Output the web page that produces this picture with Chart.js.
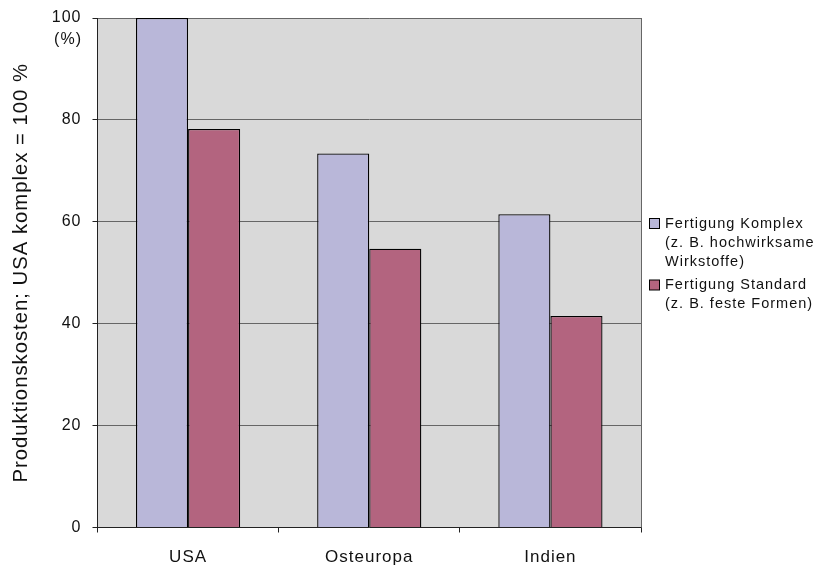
<!DOCTYPE html>
<html>
<head>
<meta charset="utf-8">
<script src="https://cdn.jsdelivr.net/npm/chart.js@4/dist/chart.umd.min.js"></script>
<style>
  html, body { margin: 0; padding: 0; background: #ffffff; }
  #wrap { width: 815px; height: 565px; position: relative; }
</style>
</head>
<body>
<div id="wrap"><canvas id="c" width="815" height="565"></canvas></div>
<script>
// Production cost comparison, indexed to USA complex manufacturing = 100 %
const categories = ['USA', 'Osteuropa', 'Indien'];
const komplexValues = [100, 73.4, 61.5];
const standardValues = [78.2, 54.7, 41.5];
const seriesLabels = [
  ['Fertigung Komplex', '(z. B. hochwirksame', 'Wirkstoffe)'],
  ['Fertigung Standard', '(z. B. feste Formen)']
];
const yTickValues = [0, 20, 40, 60, 80, 100];
const yUnitLabel = '(%)';
const yAxisTitle = 'Produktionskosten; USA komplex = 100 %';

const FONT = '"Liberation Sans", Arial, Helvetica, sans-serif';
const colors = {
  komplex: '#b9b7d9',
  standard: '#b3647f',
  plotBg: '#d9d9d9',
  grid: '#666666',
  axis: '#222222',
  text: '#111111'
};

// Plot background and the thin frame on the right side
const plotFrame = {
  id: 'plotFrame',
  beforeDraw(chart) {
    const { ctx, chartArea: a } = chart;
    ctx.letterSpacing = '1px';
    ctx.save();
    ctx.fillStyle = colors.plotBg;
    ctx.fillRect(a.left, a.top, a.right - a.left, a.bottom - a.top);
    ctx.restore();
  },
  beforeDatasetsDraw(chart) {
    const { ctx, chartArea: a } = chart;
    ctx.save();
    ctx.strokeStyle = colors.grid;
    ctx.lineWidth = 1;
    ctx.beginPath();
    ctx.moveTo(Math.round(a.right) + 0.5, a.top);
    ctx.lineTo(Math.round(a.right) + 0.5, a.bottom);
    ctx.stroke();
    ctx.restore();
  }
};

// Unit note under the top y tick, and the multi-line legend on the right
const extras = {
  id: 'extras',
  afterDraw(chart) {
    const { ctx } = chart;
    const y = chart.scales.y;
    ctx.save();
    ctx.letterSpacing = '1px';
    ctx.fillStyle = colors.text;
    ctx.font = '16px ' + FONT;
    ctx.textAlign = 'right';
    ctx.textBaseline = 'middle';
    ctx.fillText(yUnitLabel, 82, y.getPixelForValue(100) + 22);

    const boxX = 649.5, boxSize = 10, textX = 665, lineH = 19, itemGap = 4.5;
    let cy = 223.5;
    const fills = [colors.komplex, colors.standard];
    ctx.font = '14.5px ' + FONT;
    ctx.textAlign = 'left';
    seriesLabels.forEach((lines, i) => {
      ctx.fillStyle = fills[i];
      ctx.fillRect(boxX, cy - boxSize / 2, boxSize, boxSize);
      ctx.strokeStyle = '#000';
      ctx.lineWidth = 1;
      ctx.strokeRect(boxX, cy - boxSize / 2, boxSize, boxSize);
      ctx.fillStyle = colors.text;
      lines.forEach((ln, k) => ctx.fillText(ln, textX, cy + k * lineH));
      cy += lines.length * lineH + itemGap;
    });
    ctx.restore();
  }
};

new Chart(document.getElementById('c'), {
  type: 'bar',
  data: {
    labels: categories,
    datasets: [
      {
        label: seriesLabels[0].join(' '),
        data: komplexValues,
        backgroundColor: colors.komplex,
        borderColor: '#000000',
        borderWidth: 1.3,
        categoryPercentage: 0.575,
        barPercentage: 1.0
      },
      {
        label: seriesLabels[1].join(' '),
        data: standardValues,
        backgroundColor: colors.standard,
        borderColor: '#000000',
        borderWidth: 1.3,
        categoryPercentage: 0.575,
        barPercentage: 1.0
      }
    ]
  },
  options: {
    responsive: false,
    animation: false,
    devicePixelRatio: 1,
    layout: { padding: { left: 0, top: 18, right: 174, bottom: 0 } },
    plugins: {
      legend: { display: false },
      tooltip: { enabled: false }
    },
    scales: {
      x: {
        offset: true,
        grid: {
          offset: true,
          drawOnChartArea: false,
          tickLength: 5,
          tickColor: colors.axis
        },
        border: { color: colors.axis, width: 1 },
        ticks: {
          padding: 15,
          color: colors.text,
          font: { family: FONT, size: 17 }
        },
        afterFit(scale) { scale.height = 37.5; }
      },
      y: {
        min: 0,
        max: 100,
        afterBuildTicks(scale) {
          scale.ticks = yTickValues.map(v => ({ value: v }));
        },
        grid: {
          color: colors.grid,
          tickColor: colors.axis,
          tickLength: 5
        },
        border: { color: colors.axis, width: 1 },
        ticks: {
          padding: 11,
          color: colors.text,
          font: { family: FONT, size: 16 }
        },
        title: {
          display: true,
          text: yAxisTitle,
          color: colors.text,
          font: { family: FONT, size: 20.3 },
          padding: { top: 9, bottom: 0 }
        },
        afterFit(scale) {
          scale.width = 97.5;
          scale.paddingTop = 8;
          scale.paddingBottom = 8;
        }
      }
    }
  },
  plugins: [plotFrame, extras]
});
</script>
</body>
</html>
